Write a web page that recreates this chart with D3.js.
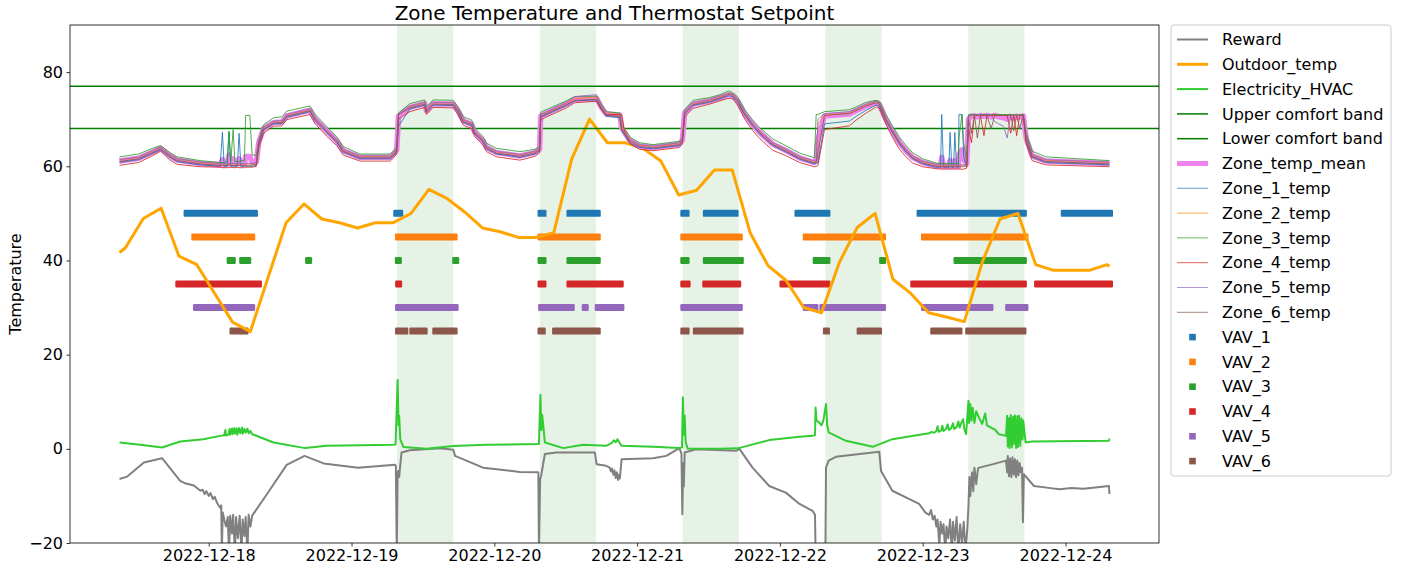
<!DOCTYPE html>
<html><head><meta charset="utf-8">
<script src="https://cdn.jsdelivr.net/npm/d3@7"></script>
<style>body{margin:0;background:#fff}svg{display:block;font-family:"DejaVu Sans",sans-serif}</style>
</head><body><svg id="c" width="1402" height="572"></svg>
<script>
// ---------- DATA (hours since 2022-12-17 09:00 UTC) ----------
const START = Date.UTC(2022, 11, 17, 9, 0);
const yTicks = [-20, 0, 20, 40, 60, 80];
const upperComfort = 77, lowerComfort = 68;
const occupiedDays = ["2022-12-19", "2022-12-20", "2022-12-21", "2022-12-22", "2022-12-23"];
const occupiedStartHour = 7.65, occupiedEndHour = 17.1;

const outdoorHours = [0,1,4,7,10,13,16,19,22,25,28,31,34,37,40,43,46,49,52,55,58,61,64,67,70,73,76,79,82,85,88,91,94,97,100,103,106,109,112,115,118,121,124,127,130,133,136,139,142,145,148,151,154,157,160,163,166,166.4];
const outdoorTemp = [41.7,42.7,48.9,51.1,40.9,39.1,33.0,26.9,24.9,36.5,48.0,52.0,48.8,48.0,46.9,48.0,48.0,50.0,55.1,53.2,50.3,46.9,46.1,44.9,44.9,45.9,61.5,70.0,65.0,65.0,63.8,61.1,53.9,54.9,59.2,59.2,45.9,38.9,35.8,30.0,28.9,39.6,47.0,50.0,36.0,33.0,28.9,28.0,27.0,39.6,48.8,50.0,39.1,37.9,37.9,37.9,39.1,38.8];

const elecSeries = [[0,1.35],[3.5,0.85],[7.15,0.28],[10.2,1.55],[14.1,2.05],[16.9,2.75],[17.6,2.9],[17.8,4.0],[17.9,2.8],[18.3,3.0],[18.5,4.2],[18.6,3.0],[18.9,4.3],[19.0,3.1],[19.3,4.4],[19.4,3.2],[19.7,4.3],[19.8,3.0],[20.1,4.4],[20.3,3.3],[20.6,4.5],[20.7,3.2],[21.0,4.2],[21.2,3.4],[21.5,4.3],[21.7,3.3],[22.0,3.8],[22.3,3.1],[25.9,1.35],[31.2,0.15],[34.8,0.64],[46.0,0.85],[46.4,0.9],[46.75,14.6],[46.9,5.0],[47.0,7.0],[47.2,2.0],[47.7,0.4],[51.6,0.0],[56.1,0.6],[61.7,0.85],[70.5,1.0],[70.75,11.5],[70.9,4.0],[71.05,7.2],[71.5,1.35],[74.6,0.15],[77.9,0.85],[81.8,0.64],[82.7,1.2],[83.1,1.8],[83.4,1.4],[83.7,2.0],[84.1,1.2],[84.4,0.64],[89.7,0.42],[94.1,0.15],[94.55,0.3],[94.7,10.9],[94.85,3.0],[95.0,7.0],[95.15,1.5],[95.5,0.0],[100.9,0.0],[103.9,0.1],[109.2,1.85],[114.3,2.55],[116.5,2.75],[116.9,2.9],[117.0,8.8],[117.15,6.0],[117.5,5.7],[118.0,5.0],[118.3,6.0],[118.75,9.5],[118.95,5.0],[119.2,3.5],[122.1,1.7],[126.6,0.42],[129.9,2.05],[135.0,3.1],[136.1,3.3],[136.5,3.6],[136.9,3.4],[137.3,3.8],[137.5,4.8],[137.7,3.6],[138.1,3.9],[138.3,4.9],[138.5,3.8],[138.9,4.2],[139.2,5.2],[139.4,4.0],[139.8,4.4],[140.1,5.4],[140.3,4.2],[140.7,4.6],[141.0,5.8],[141.2,4.5],[141.5,5.5],[141.8,6.3],[142.0,4.2],[142.3,3.1],[142.7,10.2],[142.8,5.5],[143.0,9.5],[143.2,6.0],[143.4,8.7],[143.7,5.5],[144.0,8.0],[144.5,6.5],[145.0,5.3],[145.5,7.5],[145.8,5.0],[146.5,4.5],[147.2,4.0],[147.8,3.1],[149.0,2.75],[149.2,7.0],[149.3,0.5],[149.5,6.5],[149.6,0.2],[149.8,7.2],[150.0,0.3],[150.2,6.8],[150.3,1.0],[150.5,7.1],[150.7,0.2],[150.9,6.9],[151.0,0.4],[151.2,7.0],[151.4,0.6],[151.6,6.5],[151.8,2.0],[151.9,6.0],[152.3,1.35],[153.4,1.55],[166.3,1.7],[166.4,2.2]];

const rewardSeries = [[0,-6.4],[1.3,-5.9],[4.1,-2.9],[7.15,-2.0],[10.2,-6.8],[11.0,-7.3],[12.5,-7.8],[13.6,-8.9],[14.0,-8.7],[14.3,-9.6],[14.6,-9.0],[15.0,-10.0],[15.3,-9.4],[15.7,-10.7],[16.0,-10.2],[16.4,-11.5],[16.9,-12.5],[17.1,-12.0],[17.2,-22],[17.35,-13.5],[17.6,-15],[17.9,-16.5],[18.2,-14.5],[18.4,-22],[18.6,-14.2],[18.9,-18],[19.1,-14.0],[19.4,-22],[19.6,-14.5],[19.9,-19],[20.2,-14.2],[20.5,-22],[20.7,-15],[21.0,-18.5],[21.2,-14.5],[21.5,-22],[21.7,-14.0],[22.0,-16.5],[22.3,-14.2],[24.8,-9.6],[28.1,-3.4],[31.1,-1.5],[34.3,-3.1],[40.1,-4.0],[46.3,-3.4],[46.45,-3.6],[46.6,-22],[46.75,-5.0],[46.85,-4.7],[47.0,-6.0],[47.4,-0.8],[48.8,-0.3],[53.9,0.1],[56.1,-0.2],[56.4,-1.5],[61.1,-4.0],[67.3,-4.9],[70.4,-5.0],[70.5,-22],[70.7,-6.5],[70.9,-5.5],[71.5,-1.1],[73.4,-0.8],[79.9,-0.8],[80.2,-3.3],[81.8,-3.6],[82.4,-4.0],[82.6,-4.8],[82.8,-4.2],[83.0,-5.5],[83.2,-4.6],[83.4,-6.2],[83.6,-5.0],[83.8,-6.6],[84.0,-5.5],[84.1,-6.3],[84.4,-2.2],[89.7,-2.0],[91.9,-1.5],[94.1,0.15],[94.45,-1.0],[94.6,-13.9],[94.75,-3.0],[94.85,-8.0],[95.0,-0.8],[96.9,-0.1],[103.7,-0.4],[104.2,0.0],[106.4,-4.0],[109.2,-7.9],[112.0,-9.3],[114.3,-11.7],[116.5,-13.2],[116.9,-14.0],[117.0,-22],[118.65,-22],[118.75,-4.0],[119.2,-2.5],[120.4,-1.7],[127.7,-0.6],[128.0,-4.7],[129.9,-8.9],[134.4,-11.7],[135.5,-13.6],[136.1,-14.0],[136.4,-13.0],[136.7,-15.0],[137.0,-14.2],[137.3,-16.5],[137.5,-15.0],[137.8,-20.5],[138.0,-15.5],[138.3,-18],[138.5,-16],[138.8,-22],[139.0,-16.5],[139.3,-19],[139.6,-15],[139.9,-22],[140.1,-15.5],[140.4,-19.5],[140.7,-14.5],[141.0,-22],[141.3,-16],[141.6,-20],[141.9,-15.5],[142.2,-22],[142.5,-17],[142.7,-12],[142.85,-6],[143.0,-10],[143.1,-8.2],[143.3,-5],[143.5,-9],[143.7,-4.0],[144.0,-7.5],[144.3,-4.2],[144.5,-4.0],[146.7,-3.3],[149.0,-2.5],[149.2,-5],[149.3,-1.5],[149.5,-5.8],[149.7,-2],[149.9,-6],[150.1,-1.8],[150.3,-5.5],[150.5,-2.2],[150.7,-6],[150.9,-2.5],[151.1,-5.6],[151.3,-3],[151.5,-5],[151.7,-4],[151.85,-15.6],[152.0,-5.4],[153.7,-7.9],[156.8,-8.4],[158,-8.6],[160,-8.3],[162,-8.5],[164,-8.2],[166.3,-7.9],[166.4,-9.6]];

const zoneHours = [0.0,3.2,5.5,6.9,8.5,9.7,13.6,16.9,17.3,17.6, 18.1,18.4,18.7,19.1,19.4,19.8,20.1,20.4,21.0,21.2, 21.9,22.3,23.0,23.4,24.2,25.9,27.3,28.1,32.0,32.9, 34.8,36.5,37.6,40.4,45.5,46.3,46.6,46.9,48.8,51.3, 51.6,52.7,56.1,56.9,57.8,59.2,59.7,61.1,61.7,63.4, 67.3,69.8,70.6,70.8,75.1,76.5,80.2,81.0,81.8,84.1, 84.4,84.9,85.8,87.4,89.7,94.1,94.6,95.0,96.4,99.2, 100.9,102.0,102.5,103.1,103.9,105.1,106.4,107.6,109.8,112.1, 114.3,116.8,117.1,117.4,118.5,122.7,123.8,125.5,127.2,127.7, 128.8,129.9,131.1,132.2,133.3,135.0,137.2,138.0,138.2,138.5, 139.4,139.6,139.9,140.2,140.4,140.7,141.0,141.1,141.6,141.9, 142.4,142.7,143.2,143.7,144.2,144.7,145.3,145.8,146.5,147.1, 147.8,148.6,149.2,149.8,150.3,150.8,151.3,151.9,152.4,153.4, 155.7,166.4];
const zoneMean = [61.1,61.7,63.0,63.8,62.2,61.3,60.6,60.3,61.4,60.3, 60.4,62.4,60.5,61.6,60.5,60.5,61.6,60.5,60.5,62.1, 62.1,60.8,60.9,65.0,68.0,69.3,69.4,70.7,71.9,70.0, 67.5,65.4,63.3,61.9,61.9,62.9,63.5,70.7,72.5,73.3, 71.8,73.3,73.2,71.8,69.6,68.9,67.2,65.4,64.0,62.9, 62.2,62.9,63.6,70.7,73.2,74.2,74.4,72.5,71.1,70.9, 68.2,67.2,65.4,64.3,64.0,64.7,65.5,71.4,73.2,73.9, 74.6,75.0,75.2,75.0,73.9,71.1,68.9,67.2,64.7,63.3, 61.8,60.8,61.5,65.7,70.7,71.1,71.8,72.8,73.5,73.2, 70.0,67.5,65.0,63.3,61.9,60.8,60.1,60.0,61.9,60.0, 60.0,61.2,60.0,60.0,61.2,60.0,60.0,62.5,63.5,61.5, 60.5,70.0,70.7,70.7,70.5,70.8,70.6,70.8,70.5,70.8, 70.5,70.3,70.0,70.6,70.2,70.6,70.4,70.7,66.0,62.2, 61.1,60.6];
const zone1Temp = [60.8,61.4,62.7,63.5,61.9,61.0,60.3,60.0,67.2,60.0, 60.0,67.2,60.0,60.0,60.0,60.0,67.0,60.0,60.0,60.0, 60.0,60.0,60.2,64.6,67.7,69.0,69.1,70.4,71.6,69.7, 67.2,65.1,63.0,61.6,61.6,62.6,63.2,68.5,72.2,73.0, 71.5,73.0,72.9,71.5,69.3,68.6,66.9,65.1,63.7,62.6, 61.9,62.6,63.3,70.4,72.9,73.9,74.1,72.2,70.6,70.3, 67.6,66.6,64.9,64.0,63.7,64.4,65.2,71.1,72.9,73.6, 74.3,74.8,75.0,74.7,73.6,70.8,68.6,66.9,64.4,63.0, 61.5,60.5,60.6,60.8,69.0,69.6,70.6,71.9,73.0,72.8, 69.7,67.2,64.7,63.0,61.6,60.5,59.8,59.8,71.0,59.8, 59.8,67.2,59.8,59.8,67.2,59.8,59.8,71.0,71.0,62.0, 60.0,70.5,70.8,70.8,70.8,70.8,70.8,70.8,70.8,70.8, 70.8,70.8,70.8,70.8,70.8,70.8,70.8,70.8,65.5,61.9, 60.8,60.3];
const zone2Temp = [61.3,61.9,63.2,64.0,62.4,61.5,60.8,60.5,60.5,60.5, 60.5,60.5,60.5,60.5,60.5,60.5,60.5,60.5,60.5,60.5, 60.5,60.5,60.7,65.2,68.2,69.5,69.6,70.9,72.1,70.2, 67.7,65.6,63.5,62.1,62.1,63.1,63.7,71.0,72.7,73.5, 72.0,73.5,73.4,72.0,69.8,69.1,67.4,65.6,64.2,63.1, 62.4,63.1,63.8,70.9,73.4,74.4,74.6,72.7,71.2,71.0, 68.4,67.4,65.6,64.5,64.2,64.9,65.7,71.6,73.4,74.1, 74.8,75.2,75.2,75.2,74.1,71.3,69.1,67.4,64.9,63.5, 62.0,61.0,61.1,69.0,70.9,71.3,72.0,73.0,73.7,73.4, 70.2,67.7,65.2,63.5,62.1,61.0,60.3,60.2,60.2,60.2, 60.2,60.2,60.2,60.2,60.2,60.2,60.2,60.2,60.2,60.2, 60.3,70.2,70.8,70.8,70.8,70.8,70.8,70.8,70.8,70.8, 70.8,70.8,70.8,70.8,70.8,70.8,70.8,70.8,66.2,62.4, 61.3,60.8];
const zone3Temp = [62.0,62.6,63.8,64.4,62.9,62.0,61.2,60.8,60.8,60.8, 61.0,67.5,61.0,67.8,61.0,61.0,61.0,61.2,61.2,70.8, 70.8,62.4,62.3,65.5,68.8,70.3,70.5,71.7,72.8,71.0, 68.5,66.3,64.2,62.6,62.6,63.6,64.1,71.3,73.3,74.1, 72.6,74.1,74.0,72.6,70.5,69.8,68.1,66.3,64.9,63.8, 63.1,63.6,64.2,71.5,73.9,74.8,74.9,73.2,71.6,71.3, 68.8,67.9,66.2,65.0,64.6,65.3,66.0,72.0,74.0,74.6, 75.2,75.8,76.0,75.6,74.7,72.0,69.9,68.2,65.8,64.3, 62.8,61.8,71.0,71.0,71.6,72.0,72.6,73.6,74.0,73.8, 71.0,68.6,66.2,64.4,62.9,61.6,60.7,60.6,60.6,60.6, 60.6,60.6,60.6,60.6,60.6,60.6,60.8,66.0,71.0,65.0, 61.0,71.0,71.0,71.0,71.0,71.0,71.0,71.0,71.0,71.0, 71.0,71.0,71.0,71.0,71.0,71.0,71.0,71.0,67.0,63.2, 62.0,61.2];
const zone4Temp = [60.2,60.8,62.2,63.2,61.3,60.4,59.9,59.8,59.7,59.7, 59.7,59.7,59.8,59.7,59.7,59.8,59.7,59.7,59.7,59.8, 59.8,59.8,60.0,64.0,67.0,68.5,68.6,69.9,71.0,69.0, 66.4,64.4,62.4,61.1,61.1,62.1,62.7,70.0,71.6,72.5, 71.0,72.5,72.4,71.0,68.7,68.0,66.3,64.5,63.1,62.0, 61.3,62.1,62.8,69.9,72.4,73.5,73.8,72.0,71.0,71.0, 70.9,67.4,64.8,63.6,63.3,64.0,64.8,70.5,72.3,73.2, 73.9,74.3,74.4,74.3,73.0,70.0,67.6,65.9,63.4,62.2, 60.8,59.9,60.0,60.2,67.8,68.6,69.8,71.3,72.6,72.4, 69.0,66.2,63.6,62.0,60.7,59.9,59.5,59.4,59.4,59.4, 59.4,59.4,59.4,59.4,59.4,59.4,59.4,59.4,59.4,59.4, 59.6,68.0,65.0,70.8,70.8,70.8,66.5,70.8,70.8,70.8, 70.8,70.8,70.8,67.0,70.8,66.5,70.8,70.8,64.8,61.2, 60.3,59.9];
const zone5Temp = [61.4,62.0,63.3,64.1,62.5,61.6,60.9,60.6,60.6,60.6, 60.6,60.6,60.6,60.6,60.6,60.6,60.6,60.6,60.6,60.6, 60.6,60.6,60.8,65.3,68.3,69.6,69.7,71.0,72.2,70.3, 67.8,65.7,63.6,62.2,62.2,63.2,63.8,71.0,72.8,73.6, 72.1,73.6,73.5,72.1,69.9,69.2,67.5,65.7,64.3,63.2, 62.5,63.2,63.9,71.0,73.5,74.8,75.2,72.6,71.0,70.6, 68.0,67.0,65.7,64.6,64.3,65.0,65.8,71.7,73.5,74.2, 74.9,75.4,75.3,75.3,74.2,71.4,69.2,67.5,65.0,63.6, 62.1,61.1,61.2,70.0,71.2,71.6,72.2,73.2,73.8,73.5, 70.3,67.8,65.3,63.6,62.2,61.1,60.4,60.3,60.3,60.3, 60.3,60.3,60.3,60.3,60.3,60.3,60.3,60.3,60.3,60.3, 60.4,70.5,70.9,70.9,70.9,70.9,70.9,70.9,70.9,69.5, 69.0,68.5,66.0,70.9,70.9,70.9,70.9,70.9,66.3,62.5, 61.4,60.9];
const zone6Temp = [61.0,61.6,62.9,63.7,62.1,61.2,60.5,60.2,60.2,60.2, 60.2,60.2,60.2,60.2,60.2,60.2,60.2,60.2,60.2,60.2, 60.2,60.2,60.4,64.9,67.9,69.2,69.3,70.6,71.8,69.9, 67.4,65.3,63.2,61.8,61.8,62.8,63.4,71.0,72.4,73.2, 71.7,73.2,73.1,71.7,69.5,68.8,67.1,65.3,63.9,62.8, 62.1,62.8,63.5,70.6,73.1,74.0,74.2,72.3,70.8,70.6, 67.9,66.9,65.3,64.2,63.9,64.6,65.4,71.3,73.1,73.8, 74.5,75.0,75.5,75.0,73.8,71.0,68.8,67.1,64.6,63.2, 61.7,60.7,60.8,63.0,70.8,71.2,71.8,72.8,73.5,73.2, 69.9,67.4,64.9,63.2,61.8,60.7,60.0,59.9,59.9,59.9, 59.9,59.9,59.9,59.9,59.9,59.9,59.9,59.9,59.9,59.9, 60.0,70.0,67.0,70.8,66.0,70.8,70.8,70.8,68.0,70.8, 70.8,70.8,70.8,70.8,67.5,70.8,68.0,70.8,65.9,62.1, 61.0,60.5];

// VAV "on" intervals [startHour, endHour], drawn at a fixed level per VAV
const vavLevels = [50, 45, 40, 35, 30, 25];
const vav1On = [[11.36,22.68],[46.6,47.1],[70.85,71.18],[75.71,80.30],[94.85,95.23],[98.64,103.46],[114.03,118.90],[134.56,151.92],[158.80,166.4]];
const vav2On = [[12.66,22.22],[46.90,56.24],[70.85,80.30],[94.85,104.18],[115.43,128.25],[135.30,152.19]];
const vav3On = [[18.6,18.95],[20.71,21.55],[31.79,31.79],[46.87,46.87],[56.51,56.51],[70.85,71.18],[75.71,80.30],[94.85,95.23],[98.64,104.35],[117.10,118.90],[128.27,128.27],[140.77,151.92]];
const vav4On = [[9.97,23.35],[46.92,46.92],[70.85,71.18],[75.71,84.16],[94.85,95.40],[98.54,103.91],[111.51,118.90],[133.50,151.92],[154.31,166.4]];
const vav5On = [[12.94,22.22],[46.90,56.41],[70.95,75.93],[78.28,78.28],[80.46,84.27],[94.85,104.18],[115.43,116.89],[118.23,128.25],[135.30,146.31],[149.45,152.19]];
const vav6On = [[19.08,21.10],[46.90,47.95],[49.30,51.21],[53.16,56.24],[70.85,71.06],[73.30,80.30],[94.85,95.23],[96.96,104.30],[118.82,118.82],[124.49,127.58],[136.86,141.10],[142.73,151.85]];

// ---------- CHART ----------
const HOUR = 3600e3;
const T = h => new Date(START + h * HOUR);
const M = {left: 70, right: 1159, top: 25, bottom: 543};
const dataEnd = d3.max(zoneHours), pad = dataEnd * 0.05;
const x = d3.scaleUtc().domain([T(-pad), T(dataEnd + pad)]).range([M.left, M.right]);
const y = d3.scaleLinear().domain([-20, 90]).range([M.bottom, M.top]);
const FS = 16;
const tab = ["#1f77b4", "#ff7f0e", "#2ca02c", "#d62728", "#9467bd", "#8c564b"];

const svg = d3.select("#c");
svg.append("defs").append("clipPath").attr("id", "clip")
  .append("rect").attr("x", M.left).attr("y", M.top).attr("width", M.right - M.left).attr("height", M.bottom - M.top);
const plot = svg.append("g").attr("clip-path", "url(#clip)");

// occupied shading
const parseDay = d3.utcParse("%Y-%m-%d");
plot.selectAll("rect.occ").data(occupiedDays).join("rect").attr("class", "occ")
  .attr("x", d => x(new Date(+parseDay(d) + occupiedStartHour * HOUR)))
  .attr("width", d => x(new Date(+parseDay(d) + occupiedEndHour * HOUR)) - x(new Date(+parseDay(d) + occupiedStartHour * HOUR)))
  .attr("y", M.top).attr("height", M.bottom - M.top)
  .attr("fill", "green").attr("fill-opacity", 0.1);

// VAV markers
const vavs = [vav1On, vav2On, vav3On, vav4On, vav5On, vav6On];
const MS = 7;
vavs.forEach((iv, i) => {
  plot.append("g").selectAll("rect").data(iv).join("rect")
    .attr("x", d => x(T(d[0])) - MS / 2)
    .attr("width", d => x(T(d[1])) - x(T(d[0])) + MS)
    .attr("y", y(vavLevels[i]) - MS / 2).attr("height", MS)
    .attr("rx", 1.2)
    .attr("fill", tab[i]);
});

const line = d3.line().x(d => x(T(d[0]))).y(d => y(d[1]));
const zip = (hs, vs) => hs.map((h, i) => [h, vs[i]]);
function drawLine(data, color, w, op = 1) {
  plot.append("path").datum(data).attr("d", line).attr("fill", "none")
    .attr("stroke", color).attr("stroke-width", w).attr("stroke-opacity", op)
    .attr("stroke-linejoin", "round").attr("stroke-linecap", "butt");
}
drawLine(rewardSeries, "gray", 2);
drawLine(zip(outdoorHours, outdoorTemp), "orange", 3);
drawLine(elecSeries, "limegreen", 2);
// comfort bands
[upperComfort, lowerComfort].forEach(v => {
  plot.append("line").attr("x1", M.left).attr("x2", M.right).attr("y1", y(v)).attr("y2", y(v))
    .attr("stroke", "green").attr("stroke-width", 1.5);
});
drawLine(zip(zoneHours, zoneMean), "violet", 5.5);
[zone1Temp, zone2Temp, zone3Temp, zone4Temp, zone5Temp, zone6Temp].forEach((z, i) => drawLine(zip(zoneHours, z), tab[i], 1, 0.85));

// frame
svg.append("rect").attr("x", M.left).attr("y", M.top).attr("width", M.right - M.left).attr("height", M.bottom - M.top)
  .attr("fill", "none").attr("stroke", "black").attr("stroke-width", 0.8);

// axes
const xAxis = svg.append("g").attr("transform", `translate(0,${M.bottom})`)
  .call(d3.axisBottom(x).ticks(d3.utcDay.every(1)).tickFormat(d3.utcFormat("%Y-%m-%d")).tickSize(3.5).tickPadding(3.5));
const yAxis = svg.append("g").attr("transform", `translate(${M.left},0)`)
  .call(d3.axisLeft(y).tickValues(yTicks).tickSize(3.5).tickPadding(3.5));
[xAxis, yAxis].forEach(g => {
  g.select(".domain").remove();
  g.selectAll("line").attr("stroke", "black").attr("stroke-width", 0.8);
  g.selectAll("text").attr("font-size", FS).attr("fill", "black").attr("font-family", "DejaVu Sans");
});

svg.append("text").attr("x", (M.left + M.right) / 2).attr("y", 19.5).attr("text-anchor", "middle")
  .attr("font-size", 20).text("Zone Temperature and Thermostat Setpoint");
svg.append("text").attr("transform", `translate(21,${(M.top + M.bottom) / 2}) rotate(-90)`)
  .attr("text-anchor", "middle").attr("font-size", FS).text("Temperature");

// legend
const legendItems = [
  {name: "Reward", c: "gray", w: 2},
  {name: "Outdoor_temp", c: "orange", w: 3},
  {name: "Electricity_HVAC", c: "limegreen", w: 2},
  {name: "Upper comfort band", c: "green", w: 1.5},
  {name: "Lower comfort band", c: "green", w: 1.5},
  {name: "Zone_temp_mean", c: "violet", w: 5},
  ...tab.map((c, i) => ({name: `Zone_${i + 1}_temp`, c, w: 1, op: 0.7})),
  ...tab.map((c, i) => ({name: `VAV_${i + 1}`, c, marker: true}))
];
const L = {x: 1171, y: 25, w: 220, h: 451};
svg.append("rect").attr("x", L.x).attr("y", L.y).attr("width", L.w).attr("height", L.h)
  .attr("rx", 3).attr("fill", "white").attr("fill-opacity", 0.8).attr("stroke", "#cccccc").attr("stroke-width", 1);
const lg = svg.append("g");
legendItems.forEach((d, i) => {
  const cy = 39.5 + i * 24.8;
  if (d.marker) {
    lg.append("rect").attr("x", 1192.5 - 3.3).attr("y", cy - 3.3).attr("width", 6.6).attr("height", 6.6).attr("fill", d.c);
  } else {
    lg.append("line").attr("x1", 1177).attr("x2", 1208).attr("y1", cy).attr("y2", cy)
      .attr("stroke", d.c).attr("stroke-width", d.w).attr("stroke-opacity", d.op || 1);
  }
  lg.append("text").attr("x", 1222).attr("y", cy).attr("dy", "0.35em").attr("font-size", FS).text(d.name);
});
</script></body></html>
